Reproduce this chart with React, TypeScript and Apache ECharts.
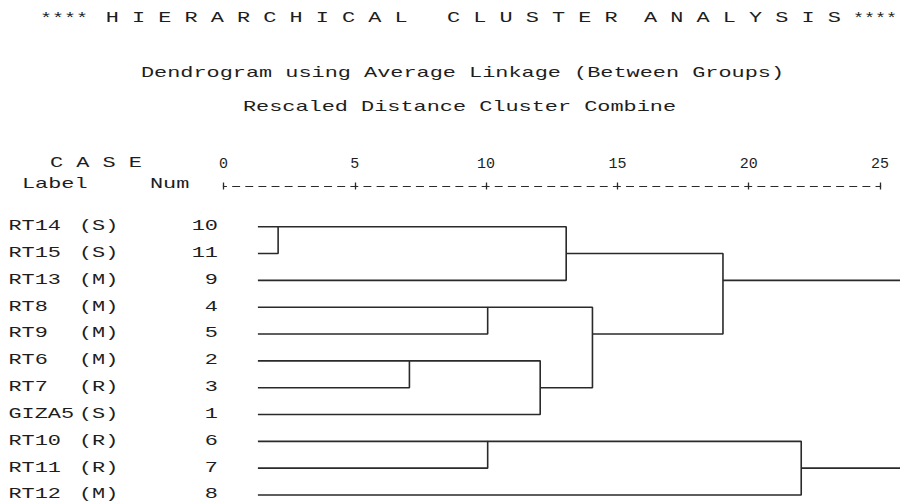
import React, { useEffect, useRef } from "react";
import * as echarts from "echarts";

// ---- data ----
const caseLabels = ["RT14", "RT15", "RT13", "RT8", "RT9", "RT6", "RT7", "GIZA5", "RT10", "RT11", "RT12"];
const caseGroups = ["(S)", "(S)", "(M)", "(M)", "(M)", "(M)", "(R)", "(S)", "(R)", "(R)", "(M)"];
const caseNums = [10, 11, 9, 4, 5, 2, 3, 1, 6, 7, 8];

// agglomeration: clusters joined at each stage ("c" = case number, "m" = stage result)
const mergeFirst = ["c10", "c2", "c4", "c6", "m1", "m0", "m2", "m5", "m3", "m7"];
const mergeSecond = ["c11", "c3", "c5", "c7", "c1", "c9", "m4", "m6", "c8", "m8"];
// rescaled distance of each join (the last join lies beyond the cropped right edge)
const mergeDistance = [2.08, 7.08, 10.06, 10.06, 12.06, 13.05, 14.05, 19.02, 22.0, 26];
const leafStart = 1.31;

const distanceTicks = [0, 5, 10, 15, 20, 25];

const headerWords = ["H I E R A R C H I C A L", "C L U S T E R", "A N A L Y S I S"];
const headerStars = "****";
const subtitle1 = "Dendrogram using Average Linkage (Between Groups)";
const subtitle2 = "Rescaled Distance Cluster Combine";
const caseHeader = "C A S E";
const labelHeader = "Label";
const numHeader = "Num";

// ---- style ----
const FONT_FAMILY = "'Liberation Mono', 'DejaVu Sans Mono', monospace";
const FS = 14;
const PITCH = 13.13;
const TEXT_COLOR = "#1e1e1e";
const LINE_COLOR = "#2a2a2a";

function monoText(str: string, x: number, y: number, align: string = "left", pitch: number = PITCH) {
  return {
    type: "text",
    x,
    y,
    scaleX: pitch / (0.6 * FS),
    silent: true,
    style: {
      text: str,
      fontFamily: FONT_FAMILY,
      fontSize: FS,
      fill: TEXT_COLOR,
      textAlign: align,
      textVerticalAlign: "middle",
      align,
      verticalAlign: "middle",
    },
  };
}

function buildSegments() {
  const pos: Record<string, number> = {};
  const h: Record<string, number> = {};
  caseNums.forEach((n, i) => {
    pos["c" + n] = i;
    h["c" + n] = leafStart;
  });
  const segs: number[][][] = [];
  mergeDistance.forEach((d, k) => {
    const a = mergeFirst[k];
    const b = mergeSecond[k];
    segs.push([
      [h[a], pos[a]],
      [d, pos[a]],
      [d, pos[b]],
      [h[b], pos[b]],
    ]);
    pos["m" + k] = Math.floor((pos[a] + pos[b]) / 2);
    h["m" + k] = d;
  });
  return segs;
}

export default function App() {
  const ref = useRef<HTMLDivElement>(null);

  useEffect(() => {
    if (!ref.current) return;
    const chart = echarts.init(ref.current, null, { renderer: "svg" });
    const segs = buildSegments();
    const gridLeft = 223.5;
    const unit = 26.26;
    const rulerMax = 25;
    const treeMax = 26;

    const tickStyle = { color: "#2a2a2a", width: 1.3 };

    chart.setOption({
      animation: false,
      backgroundColor: "#ffffff",
      grid: [
        { left: gridLeft, top: 185.5, width: unit * rulerMax, height: 1, outerBoundsMode: "none", containLabel: false },
        { left: gridLeft, top: 213.3, width: unit * treeMax, height: 295.1, outerBoundsMode: "none", containLabel: false },
      ],
      xAxis: [
        {
          gridIndex: 0,
          type: "value",
          position: "top",
          min: 0,
          max: rulerMax,
          interval: 5,
          axisLine: {
            show: true,
            lineStyle: { color: "#2a2a2a", width: 1.2, type: [7, 6.13], dashOffset: 3.5 },
          },
          axisTick: { show: true, length: 4, lineStyle: tickStyle },
          axisLabel: {
            show: true,
            margin: 14,
            fontFamily: FONT_FAMILY,
            fontSize: 15,
            color: TEXT_COLOR,
            formatter: (v: number) => (distanceTicks.indexOf(v) >= 0 ? String(v) : ""),
          },
          splitLine: { show: false },
        },
        {
          gridIndex: 0,
          type: "value",
          position: "top",
          min: 0,
          max: rulerMax,
          interval: 5,
          axisLine: { show: false },
          axisTick: { show: true, inside: true, length: 4, lineStyle: tickStyle },
          axisLabel: { show: false },
          splitLine: { show: false },
        },
        { gridIndex: 1, type: "value", min: 0, max: treeMax, show: false },
      ],
      yAxis: [
        { gridIndex: 1, type: "value", inverse: true, min: -0.5, max: 10.5, show: false },
        { gridIndex: 0, type: "value", show: false },
      ],
      series: segs.map((s) => ({
        type: "line",
        xAxisIndex: 2,
        yAxisIndex: 0,
        data: s,
        symbol: "none",
        clip: false,
        silent: true,
        lineStyle: { color: LINE_COLOR, width: 1.6 },
      })),
    });

    const rowY = caseNums.map((_, i) => chart.convertToPixel({ yAxisIndex: 0 }, i) as unknown as number);

    const graphics: any[] = [];
    graphics.push(monoText(headerStars, 40, 19, "left", 12));
    graphics.push(monoText(headerWords[0], 40 + 5 * PITCH, 19));
    graphics.push(monoText(headerWords[1], 40 + 31 * PITCH, 19));
    graphics.push(monoText(headerWords[2], 40 + 46 * PITCH, 19));
    graphics.push(monoText(headerStars, 897, 19, "right", 11));
    graphics.push(monoText(subtitle1, 141, 74));
    graphics.push(monoText(subtitle2, 243, 108));
    graphics.push(monoText(caseHeader, 50, 164));
    graphics.push(monoText(labelHeader, 22, 185));
    graphics.push(monoText(numHeader, 150, 185));
    caseLabels.forEach((lab, i) => {
      graphics.push(monoText(lab, 8.5, rowY[i]));
      graphics.push(monoText(caseGroups[i], 79, rowY[i]));
      graphics.push(monoText(String(caseNums[i]), 218, rowY[i], "right"));
    });
    chart.setOption({ graphic: graphics });

    return () => chart.dispose();
  }, []);

  return (
    <div
      ref={ref}
      style={{ position: "fixed", left: 0, top: 0, width: 900, height: 504, background: "#fff" }}
    />
  );
}
